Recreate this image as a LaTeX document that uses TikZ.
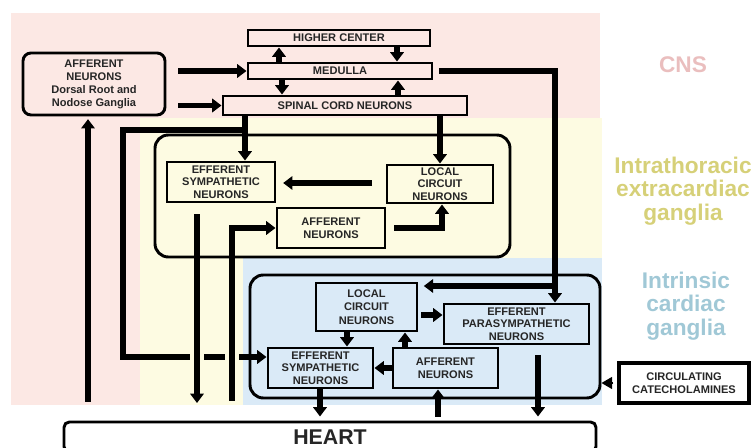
\documentclass[tikz,border=0pt]{standalone}
\usepackage{fontspec}
\setmainfont{Liberation Sans}
\usetikzlibrary{arrows.meta}
\definecolor{pinkbg}{RGB}{252,232,228}
\definecolor{yellowbg}{RGB}{253,251,226}
\definecolor{bluebg}{RGB}{218,234,247}
\definecolor{cnscol}{RGB}{234,190,190}
\definecolor{ithcol}{RGB}{214,208,120}
\definecolor{intcol}{RGB}{160,200,214}
\begin{document}
\begin{tikzpicture}[x=0.75pt,y=-0.75pt,
  sz/.style 2 args={minimum width=#1*0.75pt, minimum height=#2*0.75pt},
  box/.style={draw=black, line width=2.2pt, align=center, inner sep=0pt, text=black!85,
    font=\bfseries\fontsize{8.3}{9.4}\selectfont},
  grp/.style={draw=black, line width=2.2pt, rounded corners=10pt},
  arr/.style={line width=3.8pt, -{Triangle[length=7pt,width=10pt]}},
  side/.style={align=center, font=\bfseries\fontsize{17}{17.4}\selectfont}
]
\clip (0,0) rectangle (751,448);
% backgrounds
\fill[pinkbg] (11,13) rectangle (600,118);
\fill[pinkbg] (11,118) rectangle (140,405);
\fill[yellowbg] (140,118) rectangle (602,258);
\fill[yellowbg] (140,258) rectangle (245,405);
\fill[bluebg] (243,258) rectangle (602,405);

% group boxes
\node[grp, sz={355}{122}] (ith) at (332.5,196) {};
\node[grp, sz={350}{123}] (icb) at (425,336.5) {};

% nodes
\node[box, sz={182}{16}] (hc) at (339,38) {HIGHER CENTER};
\node[box, sz={184}{16}] (med) at (340,71) {MEDULLA};
\node[box, sz={244}{19}] (sc) at (345,105.5) {SPINAL CORD NEURONS};
\node[box, sz={142}{62}, rounded corners=6pt, font=\bfseries\fontsize{8.3}{9.8}\selectfont] (aff0) at (94,84)
  {AFFERENT\\NEURONS\\Dorsal Root and\\Nodose Ganglia};
\node[box, sz={108}{40}] (es1) at (221,182) {EFFERENT\\SYMPATHETIC\\NEURONS};
\node[box, sz={106}{38}] (lc1) at (440,184) {LOCAL\\CIRCUIT\\NEURONS};
\node[box, sz={108}{40}] (af1) at (331,228) {AFFERENT\\NEURONS};
\node[box, sz={101}{48}, font=\bfseries\fontsize{8.3}{10}\selectfont] (lc2) at (366.5,307) {LOCAL\\CIRCUIT\\NEURONS};
\node[box, sz={145}{40}] (ep2) at (516.5,324) {EFFERENT\\PARASYMPATHETIC\\NEURONS};
\node[box, sz={105}{40}] (es2) at (320.5,368) {EFFERENT\\SYMPATHETIC\\NEURONS};
\node[box, sz={105}{40}] (af2) at (445.5,368) {AFFERENT\\NEURONS};
\node[box, sz={130}{40}, fill=white, line width=2.6pt] (circ) at (684,383) {CIRCULATING\\CATECHOLAMINES};
\node[box, sz={532}{30}, fill=white, rounded corners=4pt, font=\bfseries\fontsize{16}{18}\selectfont] (heart) at (330,437) {HEART};

% side labels
\node[side, text=cnscol] (cns) at (683,65) {CNS};
\node[side, text=ithcol] (ithl) at (683,191) {Intrathoracic\\extracardiac\\ganglia};
\node[side, text=intcol] (intl) at (686,306) {Intrinsic\\cardiac\\ganglia};

% CNS arrows
\draw[arr] (med.north -| 279,0) -- (hc.south -| 279,0);
\draw[arr] (hc.south -| 397,0) -- (med.north -| 397,0);
\draw[arr] (med.south -| 282,0) -- (sc.north -| 282,0);
\draw[arr] (sc.north -| 398,0) -- (med.south -| 398,0);
\draw[arr, shorten <=9pt] (aff0.east |- med) -- (med.west);
\draw[arr, shorten <=9pt] (aff0.east |- sc) -- (sc.west);

% spinal cord outputs
\draw[arr] (sc.south -| 245,0) -- (es1.north -| 245,0);
\draw[arr] (sc.south -| 245,0) -- (245,130) -- (123,130) -- (123,357) -- (es2.west |- 0,357);
\draw[arr] (sc.south -| 440,0) -- (lc1.north -| 440,0);

% medulla to parasympathetic
\draw[arr, shorten <=4pt] (med.east) -- (555,71) -- (ep2.north -| 555,0);
\draw[arr, shorten >=4pt] (555,286) -- (lc2.east |- 0,286);

% intrathoracic
\draw[arr, shorten <=10pt, shorten >=5pt] (lc1.west |- 0,183) -- (es1.east |- 0,183);
\draw[arr, shorten <=6pt] (af1.east |- 0,228) -- (442,228) -- (lc1.south -| 442,0);

% gaps where the long lines cross
\fill[yellowbg] (190,352) rectangle (204,362);
\fill[yellowbg] (225,352) rectangle (239,362);

\coordinate (d1) at (197,403);
\coordinate (u1) at (232,401);
\coordinate (u0) at (88,402);
\draw[arr, shorten <=8pt] (es1.south -| 197,0) -- (d1);
\draw[arr] (u1) -- (232,228) -- (af1.west |- 0,228);
\draw[arr, shorten >=2pt] (u0) -- (aff0.south -| 88,0);

% intrinsic
\draw[arr, shorten <=2pt] (lc2.east |- 0,315) -- (ep2.west |- 0,315);
\draw[arr] (lc2.south -| 347,0) -- (es2.north -| 347,0);
\draw[arr] (af2.north -| 405,0) -- (lc2.south -| 405,0);
\draw[arr] (af2.west |- 0,368) -- (es2.east |- 0,368);

% to / from heart
\draw[arr, shorten >=3pt] (es2.south -| 320,0) -- (heart.north -| 320,0);
\draw[arr, shorten <=3pt] (heart.north -| 438,0) -- (af2.south -| 438,0);
\draw[arr, shorten <=7pt, shorten >=3pt] (ep2.south -| 538,0) -- (heart.north -| 538,0);

% catecholamines
\draw[line width=1pt, -{Triangle[length=8pt,width=9pt]}, shorten <=3pt] (circ.west) -- (icb.east |- circ.west);
\end{tikzpicture}
\end{document}
